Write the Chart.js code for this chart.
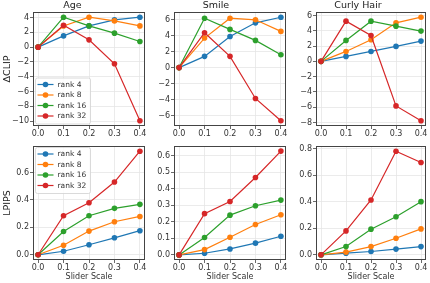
<!DOCTYPE html>
<html>
<head>
<meta charset="utf-8">
<script src="https://cdn.jsdelivr.net/npm/chart.js@4.4.1/dist/chart.umd.min.js"></script>
<style>
  body { margin: 0; background: #fff; }
  #fig { position: relative; width: 430px; height: 283px; background: #fff; overflow: hidden; }
  #fig canvas { position: absolute; }
</style>
</head>
<body>
<div id="fig">
  <canvas id="age-clip" width="149" height="140" style="left:0;top:0"></canvas>
  <canvas id="smile-clip" width="144" height="140" style="left:146px;top:0"></canvas>
  <canvas id="curly-clip" width="142" height="140" style="left:288px;top:0"></canvas>
  <canvas id="age-lpips" width="149" height="143" style="left:0;top:140px"></canvas>
  <canvas id="smile-lpips" width="144" height="143" style="left:146px;top:140px"></canvas>
  <canvas id="curly-lpips" width="142" height="143" style="left:288px;top:140px"></canvas>
</div>
<script>
// ---- data ----
const sliderScale = [0.0, 0.1, 0.2, 0.3, 0.4];
const rankLabels = ["rank 4", "rank 8", "rank 16", "rank 32"];

// ΔCLIP
const clipAge4 = [0, 1.52, 2.87, 3.68, 4.05];
const clipAge8 = [0, 2.87, 4.05, 3.55, 2.87];
const clipAge16 = [0, 4.05, 2.87, 1.89, 0.76];
const clipAge32 = [0, 2.97, 0.99, -2.25, -9.95];

const clipSmile4 = [0, 1.40, 3.88, 5.58, 6.28];
const clipSmile8 = [0, 3.68, 6.16, 5.96, 4.51];
const clipSmile16 = [0, 6.16, 4.76, 3.39, 1.61];
const clipSmile32 = [0, 4.35, 1.40, -3.85, -6.63];

const clipCurly4 = [0, 0.65, 1.30, 1.96, 2.65];
const clipCurly8 = [0, 1.30, 2.83, 5.04, 5.78];
const clipCurly16 = [0, 2.74, 5.26, 4.61, 3.96];
const clipCurly32 = [0, 5.26, 3.39, -5.83, -7.78];

// LPIPS
const lpipsAge4 = [0, 0.026, 0.073, 0.124, 0.176];
const lpipsAge8 = [0, 0.070, 0.173, 0.241, 0.280];
const lpipsAge16 = [0, 0.170, 0.285, 0.339, 0.368];
const lpipsAge32 = [0, 0.285, 0.380, 0.531, 0.756];

const lpipsSmile4 = [0, 0.010, 0.036, 0.071, 0.113];
const lpipsSmile8 = [0, 0.032, 0.107, 0.184, 0.243];
const lpipsSmile16 = [0, 0.105, 0.241, 0.298, 0.332];
const lpipsSmile32 = [0, 0.250, 0.324, 0.469, 0.629];

const lpipsCurly4 = [0, 0.012, 0.025, 0.043, 0.062];
const lpipsCurly8 = [0, 0.020, 0.062, 0.125, 0.195];
const lpipsCurly16 = [0, 0.062, 0.193, 0.287, 0.400];
const lpipsCurly32 = [0, 0.180, 0.413, 0.780, 0.695];

// tick labels
const xTicks = [0.0, 0.1, 0.2, 0.3, 0.4];
const clipAgeTicks = [-10, -8, -6, -4, -2, 0, 2, 4];
const clipSmileTicks = [-6, -4, -2, 0, 2, 4, 6];
const clipCurlyTicks = [-8, -6, -4, -2, 0, 2, 4, 6];
const lpipsAgeTicks = [0.0, 0.2, 0.4, 0.6];
const lpipsSmileTicks = [0.0, 0.1, 0.2, 0.3, 0.4, 0.5, 0.6];
const lpipsCurlyTicks = [0.0, 0.2, 0.4, 0.6, 0.8];

// matplotlib tab10
const rankColors = ["#1f77b4", "#ff7f0e", "#2ca02c", "#d62728"];
const gridColor = "#e6e6e6";
const inkColor = "#333";

Chart.defaults.font.family = "'DejaVu Sans', sans-serif";
Chart.defaults.color = inkColor;

const fmtInt = v => (v < 0 ? "\u2212" + Math.abs(v) : String(v));
const fmtOne = v => v.toFixed(1);

/* ================= FRAME (spines) ================= */
const framePlugin = {
    id: "frame",
    afterDatasetsDraw(chart) {
        const a = chart.chartArea;
        const c = chart.ctx;
        c.save();
        c.strokeStyle = "#444";
        c.lineWidth = 1;
        c.strokeRect(a.left + 0.5, a.top + 0.5, a.right - a.left - 1, a.bottom - a.top - 1);
        c.restore();
    }
};

/* ================= LEGEND BOX (inside axes) ================= */
const legendBoxPlugin = {
    id: "legendBox",
    afterDraw(chart, args, opts) {
        if (!opts.where) return;
        const a = chart.chartArea;
        const c = chart.ctx;
        const w = 55, h = 46, step = 10.5;
        const x = a.left + 2.5;
        const y = opts.where === "upper left" ? a.top + 1.5 : a.bottom - 2 - h;
        c.save();
        c.beginPath();
        c.roundRect(x, y, w, h, 2);
        c.fillStyle = "rgba(255,255,255,0.85)";
        c.fill();
        c.strokeStyle = "#d0d0d0";
        c.lineWidth = 0.8;
        c.stroke();
        c.font = "7.5px 'DejaVu Sans'";
        c.textBaseline = "middle";
        chart.data.datasets.forEach((ds, i) => {
            const ry = y + 6.5 + i * step;
            c.strokeStyle = ds.borderColor;
            c.lineWidth = 1.2;
            c.beginPath();
            c.moveTo(x + 2, ry);
            c.lineTo(x + 18, ry);
            c.stroke();
            c.fillStyle = ds.borderColor;
            c.beginPath();
            c.arc(x + 10, ry, 2.8, 0, Math.PI * 2);
            c.fill();
            c.fillStyle = inkColor;
            c.fillText(ds.label, x + 22, ry + 0.5);
        });
        c.restore();
    }
};

/* ================= BUILD ONE PANEL ================= */
function buildPanel(id, cfg) {
    const ctx = document.getElementById(id).getContext("2d");
    return new Chart(ctx, {
        type: "line",
        data: {
            datasets: cfg.series.map((values, i) => ({
                label: rankLabels[i],
                data: sliderScale.map((x, j) => ({ x: x, y: values[j] })),
                borderColor: rankColors[i],
                backgroundColor: rankColors[i],
                pointBackgroundColor: rankColors[i],
                borderWidth: 1.2,
                pointRadius: 2.8,
                pointBorderWidth: 0,
                tension: 0,
                clip: false,
                order: rankLabels.length - 1 - i
            }))
        },
        plugins: [framePlugin, legendBoxPlugin],
        options: {
            responsive: false,
            animation: false,
            devicePixelRatio: 1,
            layout: { padding: { top: cfg.padTop, right: cfg.padRight, left: 0, bottom: 0 } },
            plugins: {
                legend: { display: false },
                tooltip: { enabled: false },
                title: {
                    display: !!cfg.title,
                    text: cfg.title,
                    color: "#222",
                    font: { size: 9.5, weight: "normal", lineHeight: "11px" },
                    padding: { top: 0, bottom: 1 }
                },
                legendBox: { where: cfg.legend }
            },
            scales: {
                x: {
                    type: "linear",
                    min: -0.02,
                    max: 0.42,
                    afterBuildTicks: s => { s.ticks = xTicks.map(v => ({ value: v })); },
                    afterFit: s => { s.height = cfg.xHeight; },
                    ticks: { callback: fmtOne, autoSkip: false, maxRotation: 0, padding: 0, font: { size: 8 } },
                    grid: { color: gridColor, lineWidth: 0.8, tickColor: "#444", tickLength: 3 },
                    border: { display: false },
                    title: {
                        display: !!cfg.xTitle,
                        text: cfg.xTitle,
                        color: "#333",
                        font: { size: 8 },
                        padding: { top: 0, bottom: 1 }
                    }
                },
                y: {
                    type: "linear",
                    min: cfg.yMin,
                    max: cfg.yMax,
                    afterBuildTicks: s => { s.ticks = cfg.yTicks.map(v => ({ value: v })); },
                    afterFit: s => { s.width = cfg.yWidth; },
                    ticks: { callback: cfg.fmt, autoSkip: false, padding: 1, font: { size: 8 } },
                    grid: { color: gridColor, lineWidth: 0.8, tickColor: "#444", tickLength: 3 },
                    border: { display: false },
                    title: {
                        display: !!cfg.yTitle,
                        text: cfg.yTitle,
                        color: "#222",
                        font: { size: 9.5 },
                        padding: { top: 2, bottom: 0 }
                    }
                }
            }
        }
    });
}

document.addEventListener("DOMContentLoaded", function () {
    const top = { padTop: 0, xHeight: 14 };
    const bottom = { padTop: 6, xHeight: 23, xTitle: "Slider Scale" };

    // Top row: ΔCLIP
    buildPanel("age-clip", Object.assign({}, top, {
        title: "Age", yTitle: "\u0394CLIP", yWidth: 33, padRight: 4,
        yMin: -10.65, yMax: 4.75, yTicks: clipAgeTicks, fmt: fmtInt, legend: "lower left",
        series: [clipAge4, clipAge8, clipAge16, clipAge32]
    }));
    buildPanel("smile-clip", Object.assign({}, top, {
        title: "Smile", yWidth: 28, padRight: 4,
        yMin: -7.28, yMax: 6.93, yTicks: clipSmileTicks, fmt: fmtInt,
        series: [clipSmile4, clipSmile8, clipSmile16, clipSmile32]
    }));
    buildPanel("curly-clip", Object.assign({}, top, {
        title: "Curly Hair", yWidth: 28, padRight: 2,
        yMin: -8.46, yMax: 6.46, yTicks: clipCurlyTicks, fmt: fmtInt,
        series: [clipCurly4, clipCurly8, clipCurly16, clipCurly32]
    }));

    // Bottom row: LPIPS
    buildPanel("age-lpips", Object.assign({}, bottom, {
        yTitle: "LPIPS", yWidth: 33, padRight: 4,
        yMin: -0.038, yMax: 0.794, yTicks: lpipsAgeTicks, fmt: fmtOne, legend: "upper left",
        series: [lpipsAge4, lpipsAge8, lpipsAge16, lpipsAge32]
    }));
    buildPanel("smile-lpips", Object.assign({}, bottom, {
        yWidth: 28, padRight: 4,
        yMin: -0.031, yMax: 0.66, yTicks: lpipsSmileTicks, fmt: fmtOne,
        series: [lpipsSmile4, lpipsSmile8, lpipsSmile16, lpipsSmile32]
    }));
    buildPanel("curly-lpips", Object.assign({}, bottom, {
        yWidth: 28, padRight: 2,
        yMin: -0.039, yMax: 0.819, yTicks: lpipsCurlyTicks, fmt: fmtOne,
        series: [lpipsCurly4, lpipsCurly8, lpipsCurly16, lpipsCurly32]
    }));
});
</script>
</body>
</html>
